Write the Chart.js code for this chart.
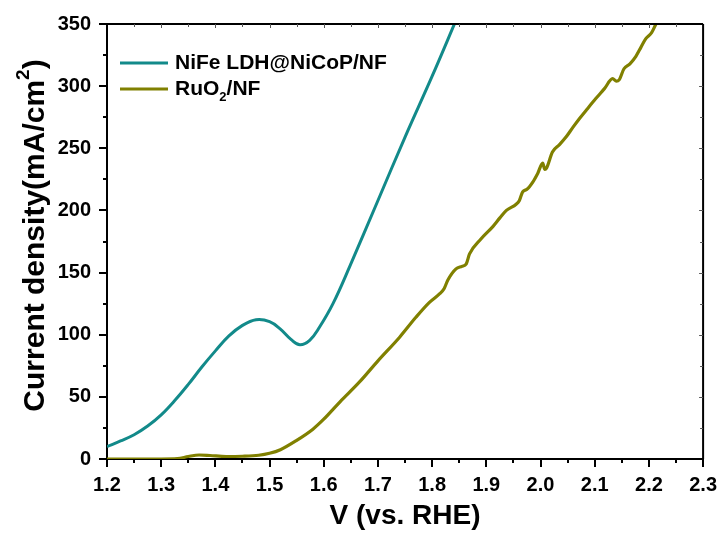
<!DOCTYPE html>
<html>
<head>
<meta charset="utf-8">
<title>OER polarization curves</title>
<script src="https://cdn.jsdelivr.net/npm/chart.js@4.4.1/dist/chart.umd.min.js"></script>
<style>
    html, body { margin: 0; padding: 0; background: #fff; }
    #wrap { width: 723px; height: 533px; position: relative; }
</style>
</head>
<body>
<div id="wrap"><canvas id="lsv" width="723" height="533"></canvas></div>
<script>
// LSV data: potential (V vs. RHE) and current density (mA/cm2)
const nifeV = [1.20, 1.225, 1.25, 1.275, 1.30, 1.325, 1.35, 1.375, 1.40, 1.425, 1.45, 1.475, 1.50, 1.52, 1.54, 1.556,
    1.574, 1.592, 1.617, 1.648, 1.70, 1.75, 1.80, 1.845];
const nifeJ = [10, 14.5, 19.5, 26.5, 35.5, 47, 60, 74, 87, 99, 107.5, 112, 110.5, 104.5, 96, 92,
    95.5, 106, 125, 155, 208, 259, 308, 354];

const ruV = [1.20, 1.30, 1.33, 1.35, 1.37, 1.39, 1.42, 1.45, 1.48, 1.50, 1.52, 1.55, 1.58, 1.60, 1.63, 1.666, 1.70, 1.74,
    1.77, 1.795, 1.814, 1.822, 1.829, 1.844, 1.855, 1.863, 1.869, 1.89, 1.912, 1.925, 1.937, 1.955, 1.961, 1.967, 1.975,
    1.986, 1.995, 2.004, 2.008, 2.011, 2.022, 2.035, 2.047, 2.06, 2.072, 2.085, 2.102, 2.118, 2.133, 2.14, 2.145, 2.154,
    2.165, 2.176, 2.185, 2.194, 2.205, 2.213, 2.22];
const ruJ = [0, 0, 0.3, 2, 3.2, 2.8, 2, 2.2, 3, 4.6, 7.5, 15, 24, 32, 46, 62, 79, 98,
    114, 126, 133, 137, 144, 153, 155, 157, 165, 177, 187, 194, 200, 205, 208, 215, 217,
    223, 230, 238, 233, 234, 247, 253, 259, 267, 274, 281, 290, 298, 306, 304, 305, 314,
    318, 324, 331, 338, 343, 350, 356];

// legend text pieces: [text, 'sub' | 'sup' | undefined]
const nifeLabel = [['NiFe LDH@NiCoP/NF']];
const ruLabel = [['RuO'], ['2', 'sub'], ['/NF']];
const yTitle = [['Current density(mA/cm'], ['2', 'sup'], [')']];

const xRange = [1.2, 2.3];
const yRange = [0, 350];

const FONT = "'Liberation Sans', Arial, sans-serif";
const TEAL = '#128a8a';
const OLIVE = '#808000';

const toPoints = (xs, ys) => xs.map((v, i) => ({ x: v, y: ys[i] }));

// draws a run of text with sub/superscript pieces, returns end x
function drawRich(ctx, parts, x, y, size) {
    parts.forEach(([txt, mode]) => {
        let fs = size, dy = 0;
        if (mode === 'sub') { fs = Math.round(size * 0.62); dy = size * 0.38; }
        if (mode === 'sup') { fs = Math.round(size * 0.62); dy = -size * 0.42; }
        ctx.font = `bold ${fs}px ${FONT}`;
        ctx.fillText(txt, x, y + dy);
        x += ctx.measureText(txt).width;
    });
    return x;
}

function richWidth(ctx, parts, size) {
    let w = 0;
    parts.forEach(([txt, mode]) => {
        const fs = mode ? Math.round(size * 0.62) : size;
        ctx.font = `bold ${fs}px ${FONT}`;
        w += ctx.measureText(txt).width;
    });
    return w;
}

// frame, minor ticks, legend and rotated y title
const decorations = {
    id: 'decorations',
    afterDraw(chart) {
        const { ctx, chartArea: a, scales: { x, y } } = chart;
        ctx.save();
        ctx.strokeStyle = '#000';
        ctx.lineWidth = 2;
        ctx.beginPath();
        ctx.moveTo(a.left, a.top); ctx.lineTo(a.right, a.top);
        ctx.moveTo(a.right, a.top); ctx.lineTo(a.right, a.bottom);
        ctx.stroke();

        // outer minor ticks on bottom and left
        ctx.beginPath();
        for (let v = 1.25; v < 2.3; v += 0.1) {
            const px = Math.round(x.getPixelForValue(v));
            ctx.moveTo(px, a.bottom); ctx.lineTo(px, a.bottom + 4);
        }
        for (let v = 25; v < 350; v += 50) {
            const py = Math.round(y.getPixelForValue(v));
            ctx.moveTo(a.left - 4, py); ctx.lineTo(a.left, py);
        }
        ctx.stroke();

        // inner ticks on top and right
        ctx.lineWidth = 1;
        ctx.strokeStyle = '#555';
        ctx.beginPath();
        for (let i = 1; i < 22; i++) {
            const px = Math.round(x.getPixelForValue(1.2 + i * 0.05)) + 0.5;
            const len = i % 2 ? 3 : 4;
            ctx.moveTo(px, a.top); ctx.lineTo(px, a.top + len);
        }
        for (let i = 1; i < 14; i++) {
            const py = Math.round(y.getPixelForValue(i * 25)) + 0.5;
            const len = i % 2 ? 3 : 4;
            ctx.moveTo(a.right, py); ctx.lineTo(a.right - len, py);
        }
        ctx.stroke();

        // legend
        ctx.fillStyle = '#000';
        ctx.textBaseline = 'middle';
        ctx.textAlign = 'left';
        const rows = [[TEAL, nifeLabel, 63], [OLIVE, ruLabel, 89]];
        rows.forEach(([col, parts, ly]) => {
            ctx.strokeStyle = col;
            ctx.lineWidth = 3;
            ctx.beginPath();
            ctx.moveTo(120, ly); ctx.lineTo(168, ly);
            ctx.stroke();
            drawRich(ctx, parts, 175, ly, 21);
        });

        // y axis title
        const ts = 30;
        ctx.translate(36, (a.top + a.bottom) / 2 - 6);
        ctx.rotate(-Math.PI / 2);
        const w = richWidth(ctx, yTitle, ts);
        drawRich(ctx, yTitle, -w / 2, 0, ts);
        ctx.restore();
    }
};

const tickFont = { family: FONT, size: 20, weight: 'bold' };

new Chart(document.getElementById('lsv'), {
    type: 'line',
    data: {
        datasets: [
            {
                label: 'NiFe LDH@NiCoP/NF',
                data: toPoints(nifeV, nifeJ),
                borderColor: TEAL,
                borderWidth: 3,
                pointRadius: 0,
                tension: 0.4
            },
            {
                label: 'RuO2/NF',
                data: toPoints(ruV, ruJ),
                borderColor: OLIVE,
                borderWidth: 3.2,
                pointRadius: 0,
                cubicInterpolationMode: 'monotone'
            }
        ]
    },
    options: {
        responsive: false,
        animation: false,
        layout: { padding: { top: 24, right: 19, left: 0, bottom: 0 } },
        plugins: {
            legend: { display: false },
            tooltip: { enabled: false }
        },
        scales: {
            x: {
                type: 'linear',
                min: xRange[0],
                max: xRange[1],
                afterFit: s => { s.height = 74; },
                ticks: {
                    stepSize: 0.1,
                    color: '#000',
                    font: tickFont,
                    padding: 6,
                    maxRotation: 0,
                    callback: v => v.toFixed(1)
                },
                grid: { drawOnChartArea: false, tickLength: 8, color: '#000', lineWidth: 2 },
                border: { display: true, color: '#000', width: 2 },
                title: {
                    display: true,
                    text: 'V (vs. RHE)',
                    color: '#000',
                    font: { family: FONT, size: 28, weight: 'bold' },
                    padding: { top: 0, bottom: 0 }
                }
            },
            y: {
                min: yRange[0],
                max: yRange[1],
                afterFit: s => { s.width = 107; },
                ticks: {
                    stepSize: 50,
                    color: '#000',
                    font: tickFont,
                    padding: 8
                },
                grid: { drawOnChartArea: false, tickLength: 8, color: '#000', lineWidth: 2 },
                border: { display: true, color: '#000', width: 2 }
            }
        }
    },
    plugins: [decorations]
});
</script>
</body>
</html>
